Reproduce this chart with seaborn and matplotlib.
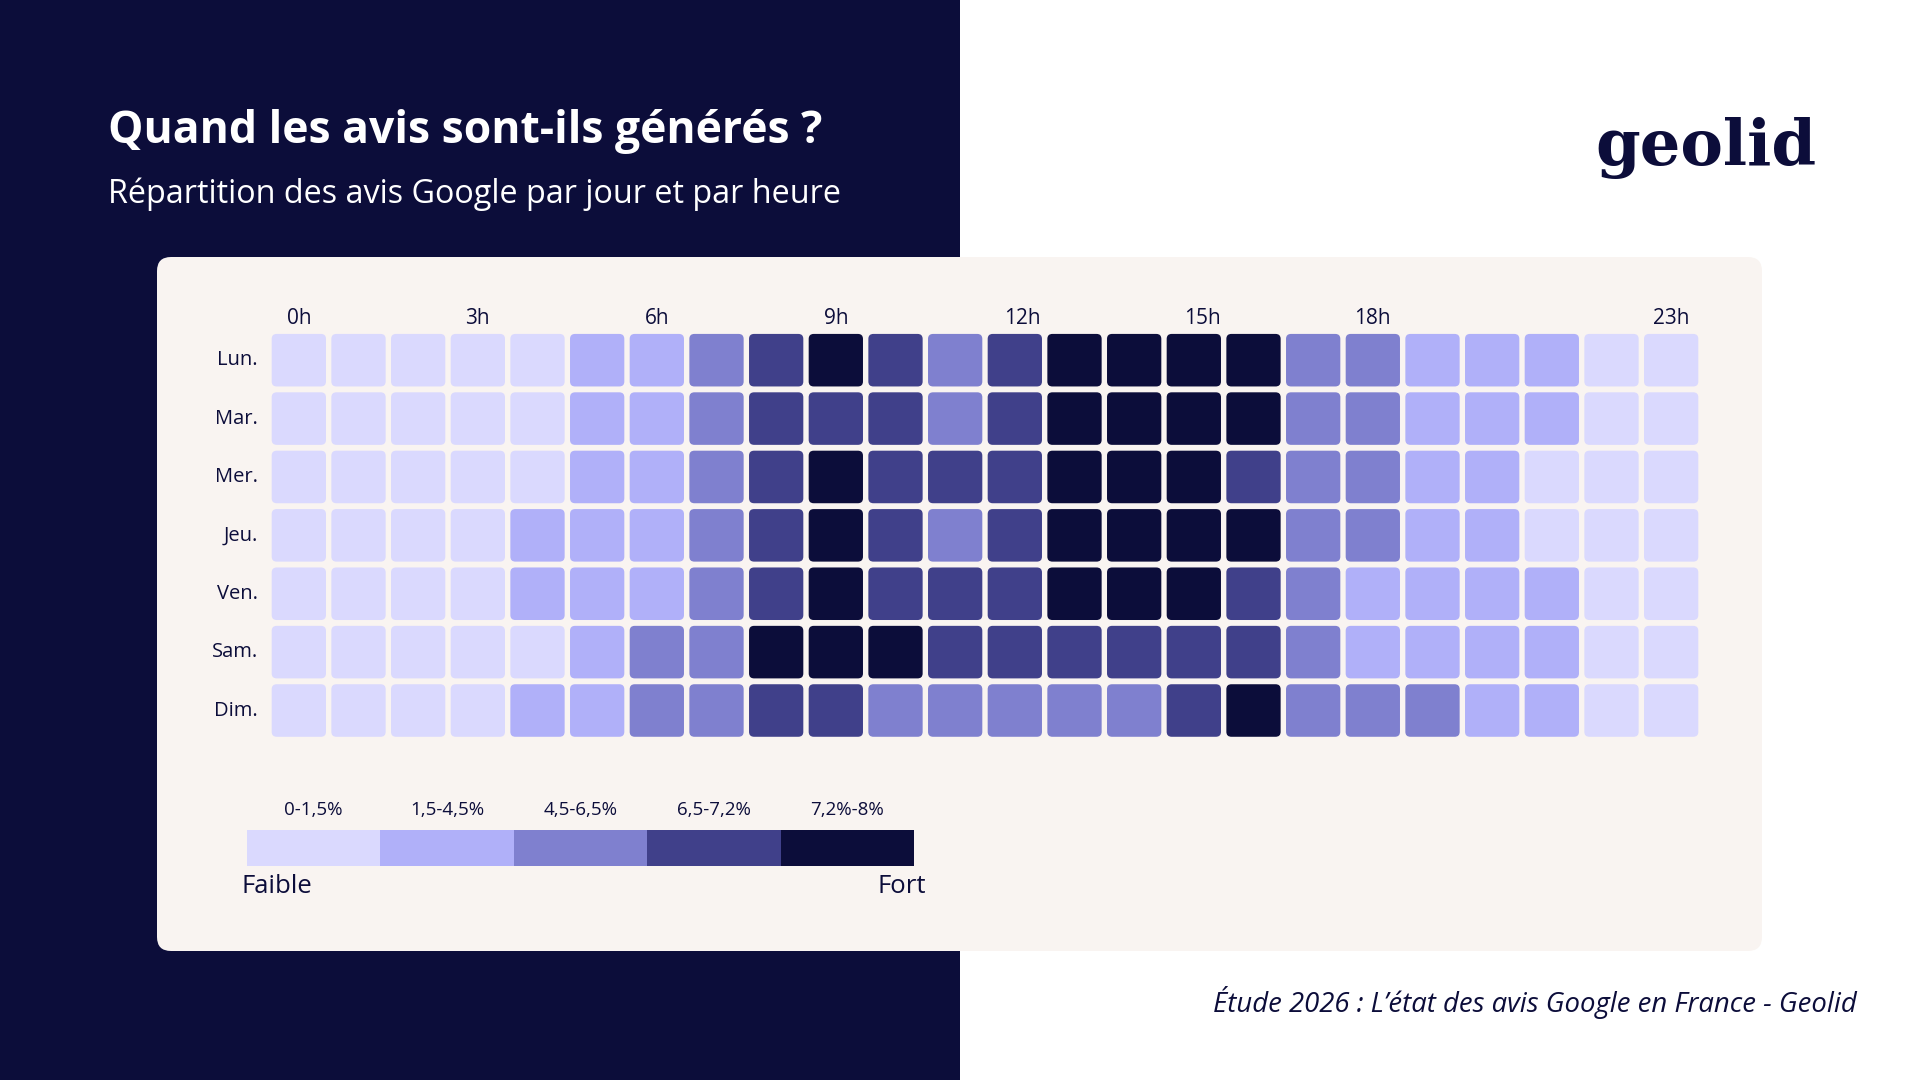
import seaborn as sns
import matplotlib.pyplot as plt
import numpy as np
from matplotlib.colors import ListedColormap
from matplotlib.patches import FancyBboxPatch, Rectangle

# niveaux 0 (faible) -> 4 (fort), une ligne par jour, 24 heures
days = ["Lun.", "Mar.", "Mer.", "Jeu.", "Ven.", "Sam.", "Dim."]
hours = [f"{h}h" for h in range(24)]
shown_hours = [0, 3, 6, 9, 12, 15, 18, 23]

lun = [0, 0, 0, 0, 0, 1, 1, 2, 3, 4, 3, 2, 3, 4, 4, 4, 4, 2, 2, 1, 1, 1, 0, 0]
mar = [0, 0, 0, 0, 0, 1, 1, 2, 3, 3, 3, 2, 3, 4, 4, 4, 4, 2, 2, 1, 1, 1, 0, 0]
mer = [0, 0, 0, 0, 0, 1, 1, 2, 3, 4, 3, 3, 3, 4, 4, 4, 3, 2, 2, 1, 1, 0, 0, 0]
jeu = [0, 0, 0, 0, 1, 1, 1, 2, 3, 4, 3, 2, 3, 4, 4, 4, 4, 2, 2, 1, 1, 0, 0, 0]
ven = [0, 0, 0, 0, 1, 1, 1, 2, 3, 4, 3, 3, 3, 4, 4, 4, 3, 2, 1, 1, 1, 1, 0, 0]
sam = [0, 0, 0, 0, 0, 1, 2, 2, 4, 4, 4, 3, 3, 3, 3, 3, 3, 2, 1, 1, 1, 1, 0, 0]
dim = [0, 0, 0, 0, 1, 1, 2, 2, 3, 3, 2, 2, 2, 2, 2, 3, 4, 2, 2, 2, 1, 1, 0, 0]

level_labels = ["0-1,5%", "1,5-4,5%", "4,5-6,5%", "6,5-7,2%", "7,2%-8%"]
level_colors = ["#DAD9FE", "#B0B0F9", "#7F80CF", "#40408A", "#0C0D3A"]

NAVY = "#0C0D3A"
PANEL = "#F9F4F1"

data = np.array([lun, mar, mer, jeu, ven, sam, dim])

sns.set_theme(style="white")
plt.rcParams['font.family'] = ['Open Sans', 'DejaVu Sans']

W, H = 1920, 1080
fig = plt.figure(figsize=(19.2, 10.8), dpi=100, facecolor="white")

# fond en pixels
bg = fig.add_axes([0, 0, 1, 1])
bg.set_xlim(0, W)
bg.set_ylim(H, 0)
bg.axis("off")
bg.add_patch(Rectangle((0, 0), 960, H, color=NAVY, lw=0))
bg.add_patch(FancyBboxPatch((157, 257), 1605, 694,
                            boxstyle="round,pad=0,rounding_size=14",
                            fc=PANEL, ec="none"))

bg.text(108, 143, "Quand les avis sont-ils générés ?", color="white",
        fontsize=32, fontweight="bold", va="baseline", ha="left")
bg.text(108, 203, "Répartition des avis Google par jour et par heure",
        color="white", fontsize=23.3, va="baseline", ha="left")
bg.text(1595, 165, "geolid", color=NAVY, fontsize=46, fontweight="bold",
        family="DejaVu Serif", va="baseline", ha="left")
bg.text(1857, 1012, "Étude 2026 : L’état des avis Google en France - Geolid",
        color=NAVY, fontsize=19.8, style="italic", va="baseline", ha="right")

# heatmap
def fig_box(x0, y0, x1, y1):
    return [x0 / W, 1 - y1 / H, (x1 - x0) / W, (y1 - y0) / H]

ax = fig.add_axes(fig_box(269, 331, 1701, 739.7))
cax = fig.add_axes(fig_box(247, 830, 914, 866))

cmap = ListedColormap(level_colors)
sns.heatmap(data, ax=ax, cmap=cmap, vmin=-0.5, vmax=4.5,
            xticklabels=hours, yticklabels=days,
            cbar=True, cbar_ax=cax,
            cbar_kws={"orientation": "horizontal", "ticks": range(5)})

# cellules arrondies
mesh = ax.collections[0]
cell_colors = mesh.to_rgba(mesh.get_array()).reshape(len(days), len(hours), 4)
mesh.set_visible(False)
fw, fh = 0.91, 0.90
for i in range(len(days)):
    for j in range(len(hours)):
        ax.add_patch(FancyBboxPatch(
            (j + (1 - fw) / 2, i + (1 - fh) / 2), fw, fh,
            boxstyle="round,pad=0,rounding_size=0.085",
            fc=cell_colors[i, j], ec="none"))

ax.set_facecolor("none")
ax.xaxis.tick_top()
# les libellés 12h et 15h sont légèrement décalés dans l'original
label_shift = {12: 0.13, 15: 0.15}
ax.set_xticks([h + 0.5 + label_shift.get(h, 0) for h in shown_hours])
ax.set_xticklabels([hours[h] for h in shown_hours], fontsize=15, color=NAVY)
ax.set_yticklabels(days, fontsize=14.5, color=NAVY, rotation=0)
ax.tick_params(axis="x", length=0, pad=1.5)
ax.tick_params(axis="y", length=0, pad=8)

# légende
cbar = ax.collections[0].colorbar
cbar.outline.set_visible(False)
cax.xaxis.set_ticks_position("top")
cax.set_xticks(range(5))
cax.set_xticklabels(level_labels, fontsize=13.5, color=NAVY)
cax.tick_params(axis="x", length=0, pad=8)
bg.text(241, 893, "Faible", fontsize=18.5, color=NAVY, ha="left", va="baseline")
bg.text(926, 893, "Fort", fontsize=18.5, color=NAVY, ha="right", va="baseline")

plt.savefig("out.png", dpi=100, facecolor=fig.get_facecolor())
plt.close()
